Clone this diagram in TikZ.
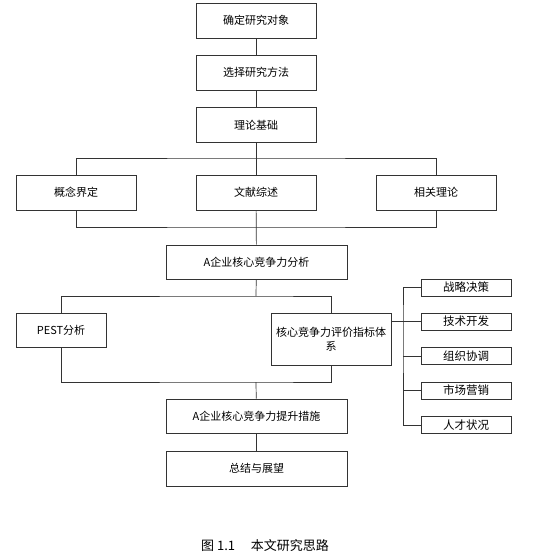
\documentclass[tikz,border=0pt]{standalone}
\usepackage{fontspec}
\newfontfamily\cjk{Noto Sans CJK SC}
\usepackage{tikz}

\tikzset{
  stagebox/.style={draw=black!80, line width=0.8pt, fill=white, inner sep=0pt,
    minimum width=120pt, minimum height=35pt, font=\cjk\fontsize{11}{14}\selectfont},
  widebox/.style={stagebox, minimum width=181pt, minimum height=34pt},
  itembox/.style={stagebox, minimum width=90pt, minimum height=17pt,
    font=\cjk\fontsize{11.5}{12}\selectfont},
  link/.style={draw=black!80, line width=0.7pt}
}

\begin{document}
\begin{tikzpicture}[x=1pt, y=-1pt]
\useasboundingbox (0,0) rectangle (547,555);

% Main stages
\node[stagebox] (obj) at (256,20.5) {确定研究对象};
\node[stagebox] (method) at (256,72.5) {选择研究方法};
\node[stagebox] (theory) at (256,125) {理论基础};

% Theory branches
\node[stagebox] (concept) at (76,192.5) {概念界定};
\node[stagebox] (review) at (256,192.5) {文献综述};
\node[stagebox] (related) at (436,192.5) {相关理论};

\node[widebox] (analysis) at (256.5,262) {A企业核心竞争力分析};
\node[stagebox, minimum width=90pt, minimum height=34pt] (pest) at (61,330) {PEST分析};
\node[stagebox, minimum height=52pt, align=center] (index) at (331,339) {核心竞争力评价指标体\\系};

\node[widebox] (measure) at (256.5,416) {A企业核心竞争力提升措施};
\node[widebox, minimum height=35pt] (summary) at (256.5,468.5) {总结与展望};

% Index items
\node[itembox] (s1) at (466,287.5) {战略决策};
\node[itembox] (s2) at (466,321.5) {技术开发};
\node[itembox] (s3) at (466,356) {组织协调};
\node[itembox] (s4) at (466,390.5) {市场营销};
\node[itembox] (s5) at (466,425) {人才状况};

% Junction points
\coordinate (top) at (256,158);
\coordinate (bot) at (256,227);
\coordinate (split) at (256,296);
\coordinate (join) at (256,382);
\coordinate (bus) at (403,322);

% Connectors
\draw[link] (obj) -- (method);
\draw[link] (method) -- (theory);
\draw[link] (theory) -- (review);
\draw[link] (concept.north) |- (top) -| (related.north);
\draw[link] (concept.south) |- (bot) -| (related.south);
\draw[link] (review) -- (analysis);
\draw[link] (analysis) -- (split);
\draw[link] (pest.north) |- (split) -| (index.north);
\draw[link] (pest.south) |- (join) -| (index.south);
\draw[link] (join) -- (measure);
\draw[link] (measure) -- (summary);

\draw[link] (s1.west) -| (bus) |- (s5.west);
\draw[link] (s2.west) -- (s2.west -| index.east);
\draw[link] (s3.west) -- (s3.west -| bus);
\draw[link] (s4.west) -- (s4.west -| bus);

% Caption
\node[font=\cjk\fontsize{13}{15}\selectfont] (cap) at (265,546) {图 1.1\hspace{1.2em}本文研究思路};
\end{tikzpicture}
\end{document}
